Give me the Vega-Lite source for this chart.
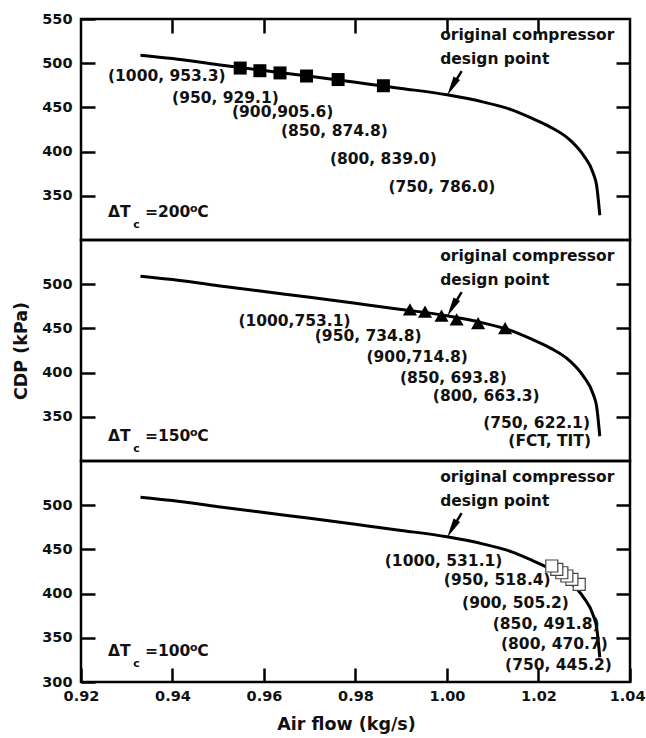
{
  "$schema": "https://vega.github.io/schema/vega-lite/v6.json",
  "padding": {"left": 11, "top": 9, "right": 0, "bottom": 5},
  "config": {
    "font": "DejaVu Sans",
    "view": {"stroke": "#000", "strokeWidth": 2.5},
    "axis": {
      "domain": false, "grid": false,
      "tickColor": "#000", "tickWidth": 2.5, "tickSize": -14,
      "labelFont": "DejaVu Sans", "labelFontWeight": "bold", "labelFontSize": 14.5, "labelColor": "#111",
      "labelFlush": false, "labelOverlap": false,
      "titleFont": "DejaVu Sans", "titleFontWeight": "bold", "titleFontSize": 17.5, "titleColor": "#111"
    }
  },
  "datasets": {
    "curve": [
      {"x": 0.933, "y": 509}, {"x": 0.940, "y": 505.2}, {"x": 0.950, "y": 498.3},
      {"x": 0.960, "y": 491.7}, {"x": 0.970, "y": 485.2}, {"x": 0.980, "y": 478.4},
      {"x": 0.990, "y": 471.5}, {"x": 1.000, "y": 464.2}, {"x": 1.008, "y": 456},
      {"x": 1.014, "y": 447.5}, {"x": 1.018, "y": 439}, {"x": 1.0225, "y": 428},
      {"x": 1.0269, "y": 413}, {"x": 1.0298, "y": 396}, {"x": 1.0320, "y": 375},
      {"x": 1.0327, "y": 362}, {"x": 1.0334, "y": 328}
    ],
    "m200": [
      {"x": 0.9548, "y": 494.5}, {"x": 0.9591, "y": 491.5}, {"x": 0.9635, "y": 489},
      {"x": 0.9693, "y": 485.5}, {"x": 0.9762, "y": 481.5}, {"x": 0.9861, "y": 474.5}
    ],
    "m150": [
      {"x": 0.9919, "y": 471.6}, {"x": 0.9952, "y": 468.9}, {"x": 0.9988, "y": 464.5},
      {"x": 1.0021, "y": 460.3}, {"x": 1.0068, "y": 456.0}, {"x": 1.0127, "y": 450.3}
    ],
    "m100": [
      {"x": 1.0289, "y": 410.5}, {"x": 1.0273, "y": 416.1}, {"x": 1.0262, "y": 419.9},
      {"x": 1.0251, "y": 423.6}, {"x": 1.0240, "y": 427.5}, {"x": 1.0229, "y": 431.2}
    ],
    "lab200": [
      {"x": 0.9259, "y": 485.5, "t": "(1000, 953.3)"},
      {"x": 0.9399, "y": 461, "t": "(950, 929.1)"},
      {"x": 0.9530, "y": 444.8, "t": "(900,905.6)"},
      {"x": 0.9637, "y": 423.5, "t": "(850, 874.8)"},
      {"x": 0.9744, "y": 392, "t": "(800, 839.0)"},
      {"x": 0.9872, "y": 360, "t": "(750, 786.0)"}
    ],
    "lab150": [
      {"x": 0.9544, "y": 458.6, "t": "(1000,753.1)"},
      {"x": 0.9711, "y": 441.3, "t": "(950, 734.8)"},
      {"x": 0.9824, "y": 417.6, "t": "(900,714.8)"},
      {"x": 0.9897, "y": 393.5, "t": "(850, 693.8)"},
      {"x": 0.9969, "y": 373.5, "t": "(800, 663.3)"},
      {"x": 1.0079, "y": 343, "t": "(750, 622.1)"},
      {"x": 1.0134, "y": 322.7, "t": "(FCT, TIT)"}
    ],
    "lab100": [
      {"x": 0.9864, "y": 436.9, "t": "(1000, 531.1)"},
      {"x": 0.9993, "y": 415, "t": "(950, 518.4)"},
      {"x": 1.0033, "y": 389.8, "t": "(900, 505.2)"},
      {"x": 1.0100, "y": 366, "t": "(850, 491.8)"},
      {"x": 1.0118, "y": 343.4, "t": "(800, 470.7)"},
      {"x": 1.0127, "y": 319.5, "t": "(750, 445.2)"}
    ],
    "note": [
      {"x": 0.9985, "y": 531.6, "t": "original compressor"},
      {"x": 0.9985, "y": 505, "t": "design point"}
    ],
    "arrow": [{"x": 1.0032, "y": 491, "x2": 1.0012, "y2": 474}],
    "head": [{"x": 1.0011, "y": 473.4}],
    "dtmain": [
      {"p": 200, "x": 0.9259, "y": 331.7, "t": "ΔT"}, {"p": 200, "x": 0.9340, "y": 331.7, "t": "=200"}, {"p": 200, "x": 0.9454, "y": 331.7, "t": "C"},
      {"p": 150, "x": 0.9259, "y": 328.3, "t": "ΔT"}, {"p": 150, "x": 0.9340, "y": 328.3, "t": "=150"}, {"p": 150, "x": 0.9454, "y": 328.3, "t": "C"},
      {"p": 100, "x": 0.9259, "y": 335.1, "t": "ΔT"}, {"p": 100, "x": 0.9340, "y": 335.1, "t": "=100"}, {"p": 100, "x": 0.9454, "y": 335.1, "t": "C"}
    ],
    "dtsmall": [
      {"p": 200, "x": 0.9314, "y": 317, "t": "c"}, {"p": 200, "x": 0.9438, "y": 335.4, "t": "o"},
      {"p": 150, "x": 0.9314, "y": 313.6, "t": "c"}, {"p": 150, "x": 0.9438, "y": 332, "t": "o"},
      {"p": 100, "x": 0.9314, "y": 320.4, "t": "c"}, {"p": 100, "x": 0.9438, "y": 338.8, "t": "o"}
    ]
  },
  "vconcat": [
    {
      "width": 549, "height": 221,
      "encoding": {
        "x": {"field": "x", "type": "quantitative", "scale": {"domain": [0.92, 1.04]}, "axis": {"orient": "top", "labels": false, "values": [0.94, 0.96, 0.98, 1.0, 1.02], "title": null}},
        "y": {"field": "y", "type": "quantitative", "scale": {"domain": [300, 550]}, "axis": null}
      },
      "layer": [
        {"data": {"name": "curve"}, "mark": {"type": "line", "color": "#000", "strokeWidth": 3, "interpolate": "monotone"},
         "encoding": {
           "y": {"field": "y", "type": "quantitative", "scale": {"domain": [300, 550]}, "axis": {"values": [350, 400, 450, 500, 550], "format": "d", "labelPadding": 23, "title": null}}
         }},
        {"data": {"name": "m200"}, "mark": {"type": "point", "shape": "square", "filled": true, "color": "#000", "opacity": 1, "size": 169},
         "encoding": {"y": {"field": "y", "type": "quantitative", "scale": {"domain": [300, 550]}, "axis": {"orient": "right", "labels": false, "values": [350, 400, 450, 500], "title": null}}}},
        {"data": {"name": "lab200"}, "mark": {"type": "text", "align": "left", "baseline": "middle", "fontSize": 15.5, "fontWeight": "bold", "color": "#111"}, "encoding": {"text": {"field": "t"}}},
        {"data": {"name": "note"}, "mark": {"type": "text", "align": "left", "baseline": "middle", "fontSize": 15.5, "fontWeight": "bold", "color": "#111"}, "encoding": {"text": {"field": "t"}}},
        {"data": {"name": "arrow"}, "mark": {"type": "rule", "color": "#000", "strokeWidth": 2.5}, "encoding": {"x2": {"field": "x2"}, "y2": {"field": "y2"}}},
        {"data": {"name": "head"}, "mark": {"type": "point", "shape": "M0,1L-0.38,-1L0.38,-1Z", "filled": true, "color": "#000", "opacity": 1, "size": 380, "angle": 29}},
        {"data": {"name": "dtmain"}, "transform": [{"filter": "datum.p == 200"}], "mark": {"type": "text", "align": "left", "baseline": "middle", "fontSize": 15.5, "fontWeight": "bold", "color": "#111"}, "encoding": {"text": {"field": "t"}}},
        {"data": {"name": "dtsmall"}, "transform": [{"filter": "datum.p == 200"}], "mark": {"type": "text", "align": "left", "baseline": "middle", "fontSize": 11, "fontWeight": "bold", "color": "#111"}, "encoding": {"text": {"field": "t"}}}
      ],
      "resolve": {"axis": {"y": "independent"}}
    },
    {
      "width": 549, "height": 221,
      "encoding": {
        "x": {"field": "x", "type": "quantitative", "scale": {"domain": [0.92, 1.04]}, "axis": null},
        "y": {"field": "y", "type": "quantitative", "scale": {"domain": [300, 550]}, "axis": null}
      },
      "layer": [
        {"data": {"name": "curve"}, "mark": {"type": "line", "color": "#000", "strokeWidth": 3, "interpolate": "monotone"},
         "encoding": {
           "y": {"field": "y", "type": "quantitative", "scale": {"domain": [300, 550]}, "axis": {"values": [350, 400, 450, 500], "format": "d", "labelPadding": 23, "title": "CDP (kPa)", "titlePadding": 11}}
         }},
        {"data": {"name": "m150"}, "mark": {"type": "point", "shape": "triangle-up", "filled": true, "color": "#000", "opacity": 1, "size": 200},
         "encoding": {"y": {"field": "y", "type": "quantitative", "scale": {"domain": [300, 550]}, "axis": {"orient": "right", "labels": false, "values": [350, 400, 450, 500], "title": null}}}},
        {"data": {"name": "lab150"}, "mark": {"type": "text", "align": "left", "baseline": "middle", "fontSize": 15.5, "fontWeight": "bold", "color": "#111"}, "encoding": {"text": {"field": "t"}}},
        {"data": {"name": "note"}, "mark": {"type": "text", "align": "left", "baseline": "middle", "fontSize": 15.5, "fontWeight": "bold", "color": "#111"}, "encoding": {"text": {"field": "t"}}},
        {"data": {"name": "arrow"}, "mark": {"type": "rule", "color": "#000", "strokeWidth": 2.5}, "encoding": {"x2": {"field": "x2"}, "y2": {"field": "y2"}}},
        {"data": {"name": "head"}, "mark": {"type": "point", "shape": "M0,1L-0.38,-1L0.38,-1Z", "filled": true, "color": "#000", "opacity": 1, "size": 380, "angle": 29}},
        {"data": {"name": "dtmain"}, "transform": [{"filter": "datum.p == 150"}], "mark": {"type": "text", "align": "left", "baseline": "middle", "fontSize": 15.5, "fontWeight": "bold", "color": "#111"}, "encoding": {"text": {"field": "t"}}},
        {"data": {"name": "dtsmall"}, "transform": [{"filter": "datum.p == 150"}], "mark": {"type": "text", "align": "left", "baseline": "middle", "fontSize": 11, "fontWeight": "bold", "color": "#111"}, "encoding": {"text": {"field": "t"}}}
      ],
      "resolve": {"axis": {"y": "independent"}}
    },
    {
      "width": 549, "height": 221,
      "encoding": {
        "x": {"field": "x", "type": "quantitative", "scale": {"domain": [0.92, 1.04]}, "axis": {"orient": "bottom", "values": [0.92, 0.94, 0.96, 0.98, 1.0, 1.02, 1.04], "format": ".2f", "labelPadding": 21, "labelAlign": {"condition": {"test": "datum.value > 1.03", "value": "right"}, "value": "center"}, "labelOffset": {"condition": {"test": "datum.value > 1.03", "value": 15}, "value": 0}, "title": "Air flow (kg/s)", "titlePadding": 13, "titleX": 265}},
        "y": {"field": "y", "type": "quantitative", "scale": {"domain": [300, 550]}, "axis": null}
      },
      "layer": [
        {"data": {"name": "curve"}, "mark": {"type": "line", "color": "#000", "strokeWidth": 3, "interpolate": "monotone"},
         "encoding": {
           "y": {"field": "y", "type": "quantitative", "scale": {"domain": [300, 550]}, "axis": {"values": [300, 350, 400, 450, 500], "format": "d", "labelPadding": 23, "title": null}}
         }},
        {"data": {"name": "m100"}, "mark": {"type": "point", "shape": "square", "filled": true, "fill": "#fff", "stroke": "#444", "strokeWidth": 1.2, "opacity": 1, "size": 144},
         "encoding": {"y": {"field": "y", "type": "quantitative", "scale": {"domain": [300, 550]}, "axis": {"orient": "right", "labels": false, "values": [350, 400, 450, 500], "title": null}}}},
        {"data": {"name": "lab100"}, "mark": {"type": "text", "align": "left", "baseline": "middle", "fontSize": 15.5, "fontWeight": "bold", "color": "#111"}, "encoding": {"text": {"field": "t"}}},
        {"data": {"name": "note"}, "mark": {"type": "text", "align": "left", "baseline": "middle", "fontSize": 15.5, "fontWeight": "bold", "color": "#111"}, "encoding": {"text": {"field": "t"}}},
        {"data": {"name": "arrow"}, "mark": {"type": "rule", "color": "#000", "strokeWidth": 2.5}, "encoding": {"x2": {"field": "x2"}, "y2": {"field": "y2"}}},
        {"data": {"name": "head"}, "mark": {"type": "point", "shape": "M0,1L-0.38,-1L0.38,-1Z", "filled": true, "color": "#000", "opacity": 1, "size": 380, "angle": 29}},
        {"data": {"name": "dtmain"}, "transform": [{"filter": "datum.p == 100"}], "mark": {"type": "text", "align": "left", "baseline": "middle", "fontSize": 15.5, "fontWeight": "bold", "color": "#111"}, "encoding": {"text": {"field": "t"}}},
        {"data": {"name": "dtsmall"}, "transform": [{"filter": "datum.p == 100"}], "mark": {"type": "text", "align": "left", "baseline": "middle", "fontSize": 11, "fontWeight": "bold", "color": "#111"}, "encoding": {"text": {"field": "t"}}}
      ],
      "resolve": {"axis": {"y": "independent"}}
    }
  ],
  "spacing": 0,
  "bounds": "flush"
}
